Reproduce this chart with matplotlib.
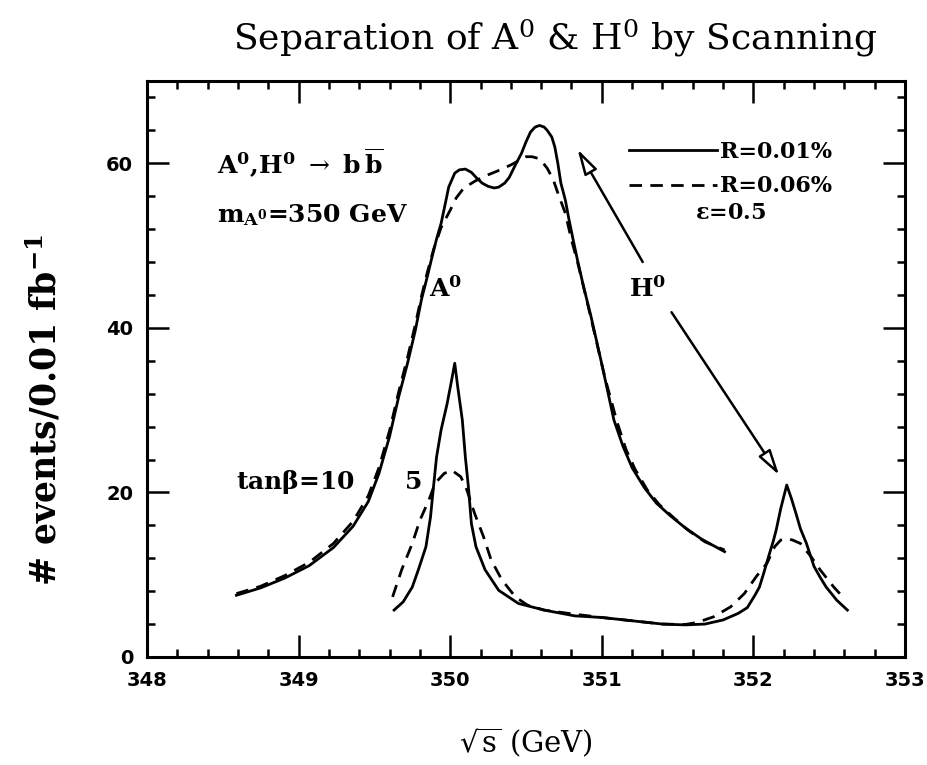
import matplotlib
matplotlib.use("Agg")
import matplotlib.pyplot as plt

plt.rcParams["mathtext.fontset"] = "dejavuserif"
plt.rcParams["font.family"] = "DejaVu Serif"

# tan(beta)=5 : broad overlapping A0/H0 peak
x_b5_solid = [348.59, 348.75, 348.91, 349.07, 349.23, 349.36, 349.46, 349.53, 349.60, 349.66,
              349.72, 349.77, 349.81, 349.85, 349.88, 349.91, 349.94, 349.97, 349.99, 350.03,
              350.06, 350.10, 350.14, 350.17, 350.21, 350.25, 350.29, 350.32, 350.36, 350.39,
              350.43, 350.47, 350.50, 350.53, 350.56, 350.59, 350.62, 350.64, 350.67, 350.69,
              350.71, 350.73, 350.76, 350.78, 350.81, 350.84, 350.88, 350.93, 351.00, 351.08,
              351.14, 351.20, 351.28, 351.36, 351.45, 351.55, 351.66, 351.74, 351.81]
y_b5_solid = [7.5, 8.4, 9.6, 11.1, 13.3, 15.9, 18.9, 22.3, 26.8, 31.6,
              35.8, 39.7, 43.4, 46.3, 48.6, 50.8, 52.7, 55.3, 57.1, 58.8,
              59.2, 59.3, 58.9, 58.3, 57.6, 57.2, 57.0, 57.1, 57.6, 58.3,
              59.8, 61.2, 62.6, 63.8, 64.4, 64.6, 64.4, 64.0, 63.2, 62.0,
              60.0, 57.6, 55.5, 53.5, 50.8, 48.2, 45.0, 41.3, 35.6, 28.8,
              25.6, 23.0, 20.6, 18.7, 17.2, 15.7, 14.3, 13.5, 12.8]

x_b5_dash = [348.59, 348.75, 348.91, 349.07, 349.23, 349.36, 349.46, 349.53, 349.60, 349.66,
             349.72, 349.77, 349.81, 349.85, 349.89, 349.94, 350.00, 350.04, 350.09, 350.17,
             350.25, 350.33, 350.40, 350.46, 350.50, 350.54, 350.58, 350.61, 350.64, 350.68,
             350.71, 350.76, 350.80, 350.84, 350.89, 350.95, 351.02, 351.10, 351.16, 351.22,
             351.30, 351.38, 351.47, 351.57, 351.68, 351.81]
y_b5_dash = [7.7, 8.6, 9.9, 11.5, 13.8, 16.5, 19.6, 23.0, 27.5, 32.2,
             36.5, 40.4, 43.8, 46.8, 49.5, 52.2, 54.3, 55.8, 57.0, 57.9,
             58.6, 59.2, 59.8, 60.4, 60.8, 60.8, 60.6, 60.1, 59.4, 58.0,
             56.4, 53.9, 50.7, 48.0, 44.2, 39.5, 34.0, 28.6, 25.2, 22.8,
             20.3, 18.5, 17.0, 15.4, 14.0, 13.0]

# tan(beta)=10 : separated A0 and H0 peaks
x_b10_solid = [349.63, 349.69, 349.75, 349.79, 349.84, 349.87, 349.89, 349.91, 349.94, 349.98,
               350.01, 350.03, 350.05, 350.08, 350.10, 350.12, 350.14, 350.17, 350.23, 350.32,
               350.45, 350.62, 350.82, 351.00, 351.20, 351.40, 351.55, 351.68, 351.80, 351.90,
               351.96, 352.01, 352.04, 352.07, 352.10, 352.13, 352.15, 352.18, 352.22, 352.25,
               352.28, 352.31, 352.35, 352.40, 352.44, 352.48, 352.55, 352.62]
y_b10_solid = [5.7, 6.7, 8.5, 10.6, 13.4, 17.0, 20.7, 24.3, 27.6, 30.8,
               33.7, 35.7, 32.8, 28.8, 24.3, 20.7, 16.2, 13.4, 10.6, 8.1,
               6.5, 5.7, 5.0, 4.8, 4.4, 4.0, 3.9, 4.0, 4.5, 5.3,
               6.0, 7.5, 8.5, 10.3, 12.2, 14.0, 15.4, 18.0, 20.9, 19.3,
               17.5, 15.6, 13.8, 11.0, 9.7, 8.5, 6.9, 5.7]

x_b10_dash = [349.62, 349.68, 349.75, 349.80, 349.86, 349.90, 349.96, 350.01, 350.07, 350.11,
              350.16, 350.22, 350.27, 350.34, 350.43, 350.51, 350.62, 350.82, 351.00, 351.20,
              351.40, 351.55, 351.63, 351.74, 351.85, 351.94, 352.02, 352.09, 352.14, 352.18,
              352.22, 352.26, 352.31, 352.38, 352.44, 352.53, 352.59]
y_b10_dash = [7.3, 10.6, 13.8, 16.6, 19.1, 21.1, 22.3, 22.7, 21.9, 20.3,
              17.5, 14.6, 11.8, 9.4, 7.3, 6.3, 5.7, 5.2, 4.8, 4.4,
              4.0, 3.95, 4.2, 4.9, 6.1, 7.7, 9.8, 11.4, 13.4, 14.2,
              14.4, 14.2, 13.8, 12.2, 10.6, 8.5, 7.3]

fig = plt.figure(figsize=(9.28, 7.65), dpi=100)
ax = fig.add_axes([0.1584, 0.1412, 0.8168, 0.7529])

lw = 2.0
dash = (0, (4.5, 3))
l1, = ax.plot(x_b5_solid, y_b5_solid, color="black", lw=lw, label="R=0.01%")
l2, = ax.plot(x_b5_dash, y_b5_dash, color="black", lw=lw, ls=dash, label="R=0.06%")
ax.plot(x_b10_solid, y_b10_solid, color="black", lw=lw)
ax.plot(x_b10_dash, y_b10_dash, color="black", lw=lw, ls=dash)

ax.set_xlim(348, 353)
ax.set_ylim(0, 70)
ax.set_xticks([348, 349, 350, 351, 352, 353])
ax.set_yticks([0, 20, 40, 60])
ax.set_xticks([348 + 0.2 * i for i in range(26)], minor=True)
ax.set_yticks(list(range(0, 71, 4)), minor=True)
ax.tick_params(which="both", direction="in", top=True, right=True, width=1.8)
ax.tick_params(which="major", length=16, pad=10)
ax.tick_params(which="minor", length=6)
for lab in ax.get_xticklabels() + ax.get_yticklabels():
    lab.set_family("DejaVu Sans")
    lab.set_fontweight("heavy")
    lab.set_fontsize(14)
for sp in ax.spines.values():
    sp.set_linewidth(2.2)

ax.set_xlabel(r"$\sqrt{\mathrm{s}}$ (GeV)", fontsize=21, labelpad=26)
ax.set_ylabel(r"# events/0.01 fb$^{\mathbf{-1}}$", fontsize=25, fontweight="bold")
ax.yaxis.set_label_coords(-0.11, 0.43)
fig.text(0.598, 0.95, r"Separation of A$^0$ & H$^0$ by Scanning", ha="center", va="center",
         fontsize=26)

bold = dict(fontsize=18, fontweight="bold", va="center")
ax.text(348.46, 60.1, r"$\mathbf{A^0{,}H^0}$ $\rightarrow$ $\mathbf{b\,\overline{b}}$", ha="left", **bold)
ax.text(348.46, 53.7, r"$\mathbf{m_{A^0}}$=350 GeV", ha="left", **bold)
ax.text(349.97, 44.7, r"$\mathbf{A^0}$", ha="center", **bold)
ax.text(351.30, 44.7, r"$\mathbf{H^0}$", ha="center", **bold)
ax.text(348.59, 21.3, r"tan$\mathbf{\beta}$=10", ha="left", **bold)
ax.text(349.76, 21.3, "5", ha="center", **bold)
ax.text(351.85, 53.9, r"$\mathbf{\epsilon}$=0.5", ha="center", fontsize=16, fontweight="bold", va="center")

ax.legend(handles=[l1, l2], loc="upper right", bbox_to_anchor=(0.918, 0.915), frameon=False,
          handlelength=4.0, handletextpad=0.1, labelspacing=0.55, borderpad=0,
          prop=dict(family="DejaVu Serif", weight="bold", size=16))

arrow = dict(arrowstyle="-|>,head_length=1.1,head_width=0.3", color="black", fc="white",
             lw=1.8, shrinkA=0, shrinkB=0, mutation_scale=14)
ax.annotate("", xy=(350.84, 61.7), xytext=(351.27, 48.0), arrowprops=arrow)
ax.annotate("", xy=(352.17, 22.1), xytext=(351.46, 41.9), arrowprops=arrow)

fig.savefig("out.png", dpi=100)
